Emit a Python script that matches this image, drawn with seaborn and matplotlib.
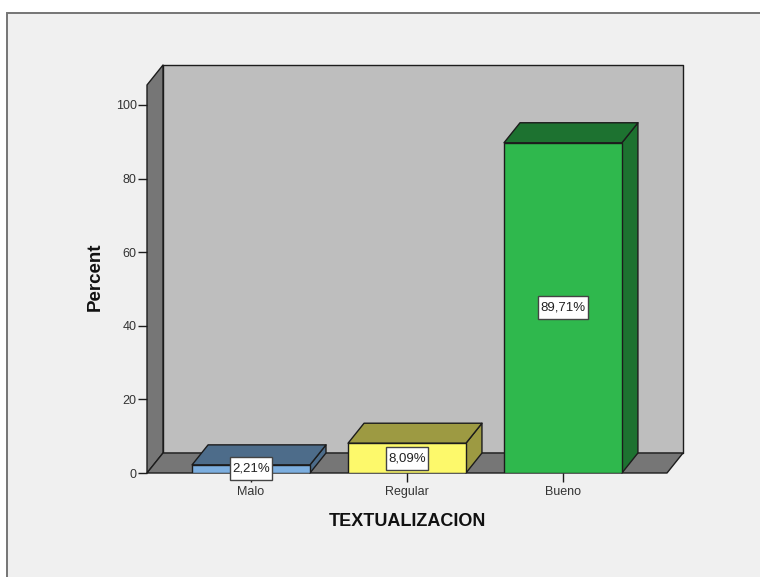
#!/usr/bin/env python3
# -*- coding: utf-8 -*-
import pandas as pd
import numpy as np
import matplotlib
matplotlib.use("Agg")
import matplotlib.pyplot as plt
from matplotlib.colors import to_rgb
from matplotlib.patches import Polygon, Rectangle
from matplotlib.path import Path
import seaborn as sns

### Data
categories = ["Malo", "Regular", "Bueno"]
percents = [2.21, 8.09, 89.71]
value_labels = ["2,21%", "8,09%", "89,71%"]
bar_colors = ["#7CAEDF", "#FDF96B", "#2FB84D"]
y_ticks = [0, 20, 40, 60, 80, 100]

### Style
sns.set_style("ticks")
plt.rcParams["font.family"] = ["Liberation Sans", "DejaVu Sans"]
INK = "#1c1c1c"
SHADE = 0.62
W, H = 760, 577
DEPTH_PX = (16, 20)

df = pd.DataFrame({"cat": categories, "pct": percents})

fig = plt.figure(figsize=(W / 100, H / 100), dpi=100, facecolor="white")
# panel frame goes behind the axes
fig.add_artist(Rectangle((7 / W, -0.01), 1, 1 - 13 / H + 0.01, transform=fig.transFigure,
                         facecolor="#F0F0F0", edgecolor="#757575", linewidth=1.4, zorder=-1))
ax = fig.add_axes([147 / W, 1 - 473 / H, 520 / W, 388 / H])
ax.patch.set_alpha(0)

sns.barplot(data=df, x="cat", y="pct", hue="cat", palette=bar_colors, hue_order=categories,
            order=categories, dodge=False, width=0.756, edgecolor=INK, linewidth=1.0,
            saturation=1, legend=False, ax=ax)
ax.set_xlim(-0.667, 2.667)
ax.set_ylim(0, 105.4)

# depth of the fake 3D box, in data units
dx = DEPTH_PX[0] * (ax.get_xlim()[1] - ax.get_xlim()[0]) / 520
dy = DEPTH_PX[1] * ax.get_ylim()[1] / 388


def box_face(points, color, z):
    ax.add_patch(Polygon(points, closed=True, facecolor=color, edgecolor=INK, linewidth=1.0,
                         joinstyle="round", clip_on=False, zorder=z))


def tall_box(x0, y0, width, height, mutation_size):
    # label box with more padding above and below than at the sides
    px, py = 0.17 * mutation_size, 0.42 * mutation_size
    l, r, b, t = x0 - px, x0 + width + px, y0 - py, y0 + height + py
    return Path([(l, b), (r, b), (r, t), (l, t), (l, b)], closed=True)


### Walls and floor
x0, x1 = ax.get_xlim()
y0, y1 = ax.get_ylim()
box_face([(x0 + dx, y0 + dy), (x1 + dx, y0 + dy), (x1 + dx, y1 + dy), (x0 + dx, y1 + dy)], "#BEBEBE", 0.3)
box_face([(x0, y0), (x0 + dx, y0 + dy), (x0 + dx, y1 + dy), (x0, y1)], "#767676", 0.4)
box_face([(x0, y0), (x1, y0), (x1 + dx, y0 + dy), (x0 + dx, y0 + dy)], "#767676", 0.4)

### Bar sides, tops and value boxes
for container, label in zip(ax.containers, value_labels):
    for bar in container:
        if np.isnan(bar.get_height()) or bar.get_height() == 0:
            continue
        l, r = bar.get_x(), bar.get_x() + bar.get_width()
        t = bar.get_height()
        dark = tuple(c * SHADE for c in to_rgb(bar.get_facecolor()))
        box_face([(r, 0), (r + dx, dy), (r + dx, t + dy), (r, t)], dark, 0.8)
        box_face([(l, t), (r, t), (r + dx, t + dy), (l + dx, t + dy)], dark, 0.8)
    ax.bar_label(container, labels=[label], label_type="center", fontsize=9.5, color="#222222",
                 bbox=dict(boxstyle=tall_box, facecolor="white", edgecolor="#444444", linewidth=1.0))

### Axes
sns.despine(ax=ax, left=True, bottom=True)
ax.set_yticks(y_ticks)
ax.tick_params(axis="both", length=6.5, width=1.0, color=INK, labelsize=9, labelcolor="#333333", pad=1)
ax.tick_params(axis="x", pad=3)
ax.set_xlabel("TEXTUALIZACION", fontsize=13, fontweight="bold", color="#111111", labelpad=11)
ax.set_ylabel("Percent", fontsize=13.5, fontweight="bold", color="#111111")
ax.yaxis.set_label_coords(-43 / 520, 0.505)

plt.savefig("out.png", dpi=100, facecolor=fig.get_facecolor())
